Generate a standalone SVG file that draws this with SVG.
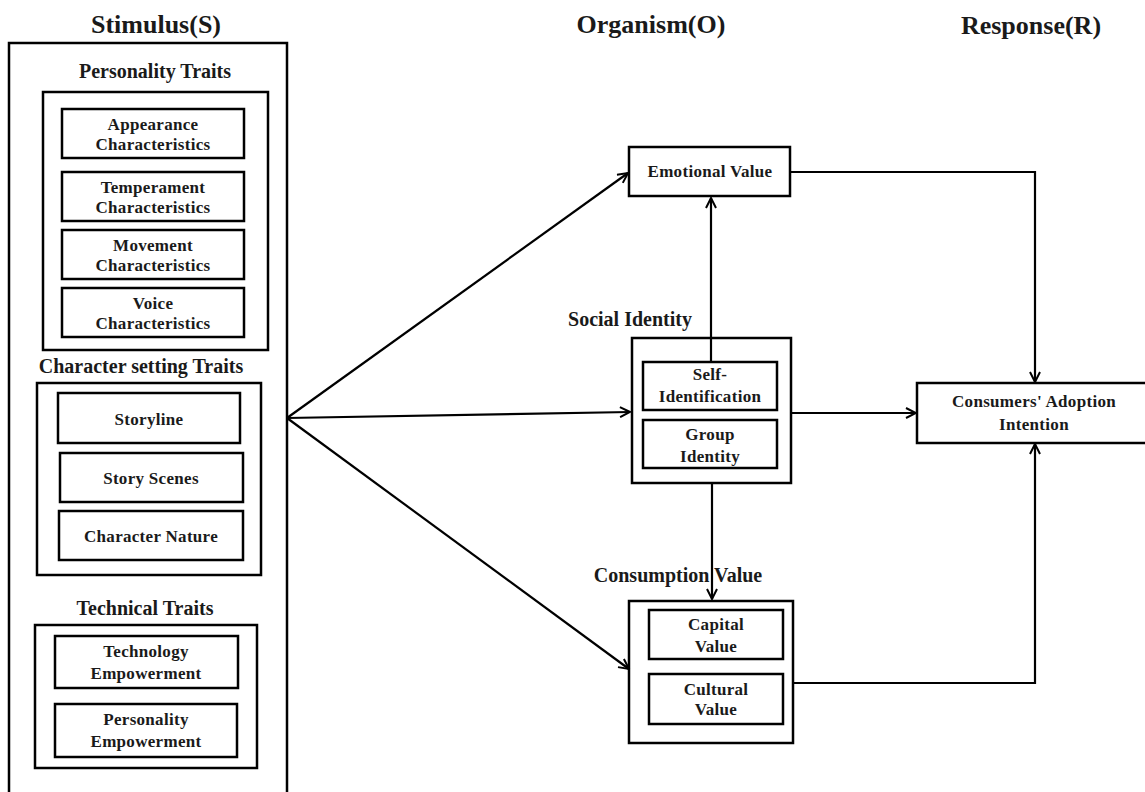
<svg xmlns="http://www.w3.org/2000/svg" width="1145" height="792" viewBox="0 0 1145 792">
<style>
text{font-family:"Liberation Serif","Times New Roman",serif;font-weight:bold;fill:#1a1a1a;text-anchor:middle}
.title{font-size:26px}
.grp{font-size:20px}
.lbl{font-size:17px;letter-spacing:0.3px}
.box{fill:#fff;stroke:#000;stroke-width:2.5}
.con{fill:none;stroke:#000;stroke-width:2.2}
</style>
<defs>
<marker id="arr" viewBox="0 0 12 12" refX="11" refY="6" markerWidth="12" markerHeight="12" markerUnits="userSpaceOnUse" orient="auto">
<path d="M1,1 L11,6 L1,11" fill="none" stroke="#000" stroke-width="2"/>
</marker>
</defs>
<rect width="1145" height="792" fill="#fff"/>

<g id="titles">
<text class="title" x="156" y="33">Stimulus(S)</text>
<text class="title" x="651" y="33">Organism(O)</text>
<text class="title" x="1031" y="34">Response(R)</text>
</g>

<g id="stimulus">
<rect class="box" x="9" y="43" width="278" height="760"/>
</g>

<g id="personality-traits">
<text class="grp" x="155" y="78">Personality Traits</text>
<rect class="box" x="43" y="92" width="225" height="258"/>
<g id="appearance"><rect class="box" x="62" y="109" width="182" height="49"/><text class="lbl" x="153" y="130">Appearance</text><text class="lbl" x="153" y="150">Characteristics</text></g>
<g id="temperament"><rect class="box" x="62" y="172" width="182" height="49"/><text class="lbl" x="153" y="193">Temperament</text><text class="lbl" x="153" y="213">Characteristics</text></g>
<g id="movement"><rect class="box" x="62" y="230" width="182" height="49"/><text class="lbl" x="153" y="251">Movement</text><text class="lbl" x="153" y="271">Characteristics</text></g>
<g id="voice"><rect class="box" x="62" y="288" width="182" height="49"/><text class="lbl" x="153" y="309">Voice</text><text class="lbl" x="153" y="329">Characteristics</text></g>
</g>

<g id="character-setting-traits">
<text class="grp" x="141" y="373">Character setting Traits</text>
<rect class="box" x="37" y="383" width="224" height="192"/>
<g id="storyline"><rect class="box" x="58" y="393" width="182" height="50"/><text class="lbl" x="149" y="425">Storyline</text></g>
<g id="story-scenes"><rect class="box" x="60" y="453" width="183" height="49"/><text class="lbl" x="151" y="484">Story Scenes</text></g>
<g id="character-nature"><rect class="box" x="59" y="511" width="184" height="49"/><text class="lbl" x="151" y="542">Character Nature</text></g>
</g>

<g id="technical-traits">
<text class="grp" x="145" y="615">Technical Traits</text>
<rect class="box" x="35" y="625" width="222" height="143"/>
<g id="technology-empowerment"><rect class="box" x="55" y="636" width="183" height="52"/><text class="lbl" x="146" y="657">Technology</text><text class="lbl" x="146" y="679">Empowerment</text></g>
<g id="personality-empowerment"><rect class="box" x="55" y="704" width="182" height="53"/><text class="lbl" x="146" y="725">Personality</text><text class="lbl" x="146" y="747">Empowerment</text></g>
</g>

<g id="emotional-value">
<rect class="box" x="629" y="147" width="161" height="49"/>
<text class="lbl" x="710" y="177">Emotional Value</text>
</g>

<g id="social-identity">
<text class="grp" x="630" y="326">Social Identity</text>
<rect class="box" x="632" y="338" width="159" height="145"/>
<g id="self-identification"><rect class="box" x="643" y="362" width="134" height="48"/><text class="lbl" x="710" y="380">Self-</text><text class="lbl" x="710" y="402">Identification</text></g>
<g id="group-identity"><rect class="box" x="643" y="420" width="134" height="48"/><text class="lbl" x="710" y="440">Group</text><text class="lbl" x="710" y="462">Identity</text></g>
</g>

<g id="consumption-value">
<text class="grp" x="678" y="582">Consumption Value</text>
<rect class="box" x="629" y="601" width="164" height="142"/>
<g id="capital-value"><rect class="box" x="649" y="610" width="134" height="49"/><text class="lbl" x="716" y="630">Capital</text><text class="lbl" x="716" y="652">Value</text></g>
<g id="cultural-value"><rect class="box" x="649" y="674" width="134" height="50"/><text class="lbl" x="716" y="695">Cultural</text><text class="lbl" x="716" y="715">Value</text></g>
</g>

<g id="consumers-adoption-intention">
<rect class="box" x="917" y="383" width="240" height="60"/>
<text class="lbl" x="1034" y="407">Consumers' Adoption</text>
<text class="lbl" x="1034" y="430">Intention</text>
</g>

<g id="connectors">
<path class="con" d="M287,418 L628,173" marker-end="url(#arr)"/>
<path class="con" d="M287,418 L630,412" marker-end="url(#arr)"/>
<path class="con" d="M287,418 L629,669" marker-end="url(#arr)"/>
<path class="con" d="M711,362 L711,198" marker-end="url(#arr)"/>
<path class="con" d="M712,484 L712,599" marker-end="url(#arr)"/>
<path class="con" d="M790,172 L1035,172 L1035,382" marker-end="url(#arr)"/>
<path class="con" d="M791,413 L916,413" marker-end="url(#arr)"/>
<path class="con" d="M793,683 L1035,683 L1035,444" marker-end="url(#arr)"/>
</g>
</svg>
